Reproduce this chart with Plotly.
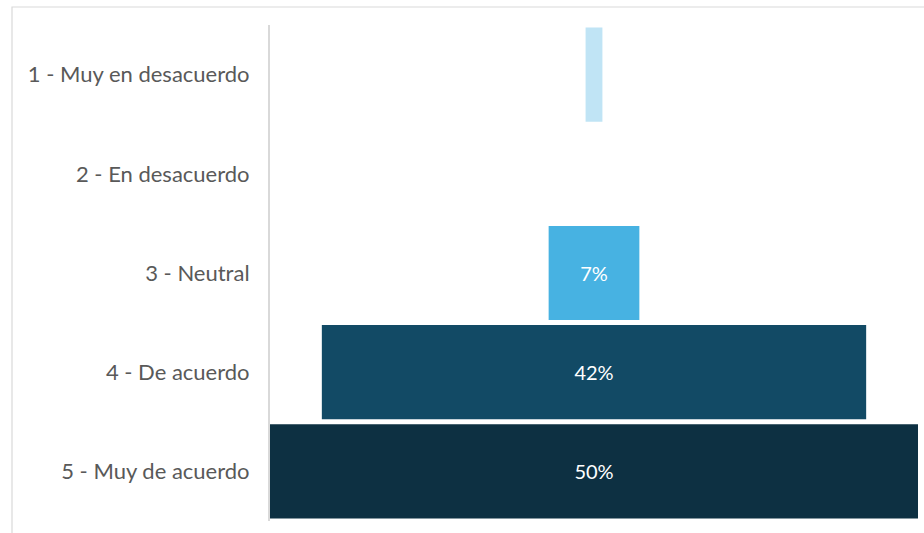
import plotly.graph_objects as go

# Survey answer distribution (percent of respondents)
categories = [
    "1 - Muy en desacuerdo",
    "2 - En desacuerdo",
    "3 - Neutral",
    "4 - De acuerdo",
    "5 - Muy de acuerdo",
]
percentages = [1.3, 0, 7, 42, 50]
bar_colors = ["#C0E4F5", "#C0E4F5", "#47B2E2", "#124A65", "#0D3042"]

# Only label bars wide enough to hold their text
labels = [f"{round(v)}%" if v >= 5 else "" for v in percentages]

W, H = 924, 533
ML, MR, MT, MB = 270, 6, 25, 12

fig = go.Figure(
    go.Bar(
        y=categories,
        x=percentages,
        base=[-v / 2 for v in percentages],
        orientation="h",
        marker=dict(color=bar_colors, line=dict(width=0)),
        text=labels,
        textposition="inside",
        insidetextanchor="middle",
        textfont=dict(color="white", size=20, family="Lato"),
        hoverinfo="skip",
    )
)

# Outer frame of the chart area (continues past the right/bottom edge)
pw = W - ML - MR
ph = H - MT - MB
fig.add_shape(
    type="rect",
    xref="paper", yref="paper",
    x0=(12 - ML) / pw, x1=(W + 20 - ML) / pw,
    y0=-(MB + 20) / ph, y1=(H - MB - 7) / ph,
    line=dict(color="#D9D9D9", width=1.2),
    fillcolor="rgba(0,0,0,0)",
    layer="below",
)

fig.update_layout(
    width=W,
    height=H,
    margin=dict(l=ML, r=MR, t=MT, b=MB),
    paper_bgcolor="white",
    plot_bgcolor="white",
    bargap=0.05,
    showlegend=False,
    font=dict(family="Lato", color="#595959"),
    uniformtext=dict(mode="show", minsize=10),
)
fig.update_xaxes(
    range=[-25, 25],
    visible=False,
    fixedrange=True,
)
fig.update_yaxes(
    categoryorder="array",
    categoryarray=categories,
    autorange="reversed",
    showline=True,
    linecolor="#D9D9D9",
    linewidth=2,
    showgrid=False,
    ticks="",
    ticklabelstandoff=14,
    tickfont=dict(size=22, color="#595959", family="Lato"),
)

fig.write_html("out.html")
